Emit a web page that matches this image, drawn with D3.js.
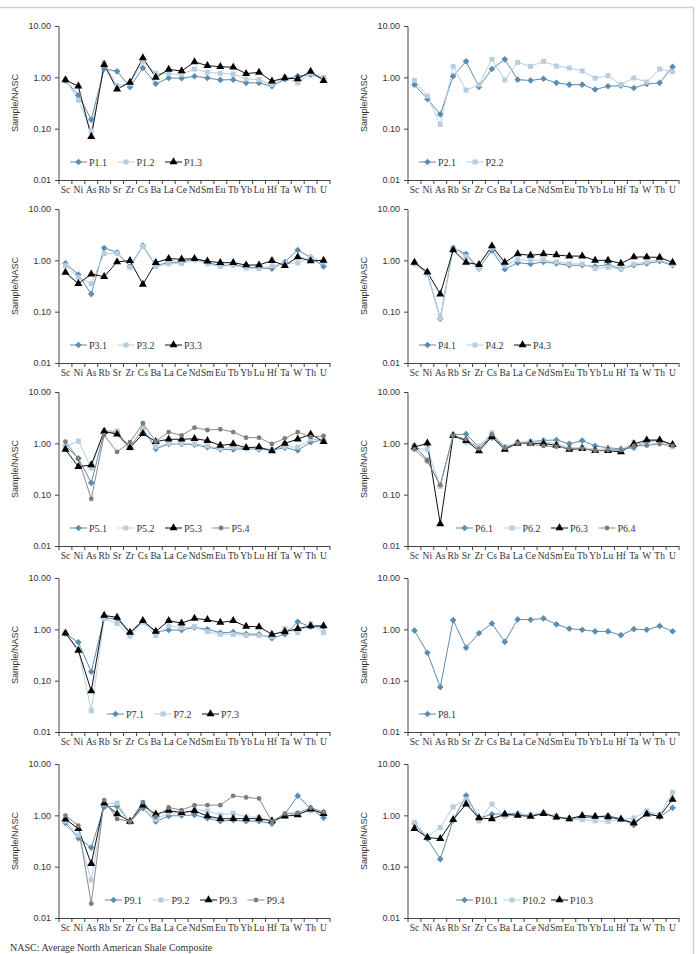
<!DOCTYPE html>
<html>
<head>
<meta charset="utf-8">
<script src="https://cdnjs.cloudflare.com/ajax/libs/d3/7.8.5/d3.min.js"></script>
<style>
  html, body { margin: 0; padding: 0; background: #fff; }
  .cont { width: 698px; height: 954px; overflow: hidden; position: relative; }
  .axis path, .axis line { stroke: #444; }
  .ytick text { font-family: "Liberation Sans", Arial, sans-serif; font-size: 9px; fill: #333; }
  .xtick text { font-family: "Liberation Serif", serif; font-size: 9.5px; fill: #333; }
  .ytitle { font-family: "Liberation Sans", Arial, sans-serif; font-size: 9px; fill: #333; }
  .leg text { font-family: "Liberation Serif", serif; font-size: 10px; fill: #333; }
  .note { font-family: "Liberation Serif", serif; font-size: 10px; fill: #333; }
</style>
</head>
<body>
<div class="cont"></div>
<script>

var elements = ["Sc", "Ni", "As", "Rb", "Sr", "Zr", "Cs", "Ba", "La", "Ce", "Nd", "Sm", "Eu", "Tb", "Yb", "Lu", "Hf", "Ta", "W", "Th", "U"];
var yTicks = [0.01, 0.1, 1, 10];

// sample / NASC ratios, one array per sample, in the order of elements
var p1_1 = [0.86, 0.45, 0.15, 1.47, 1.31, 0.65, 1.52, 0.75, 0.97, 0.96, 1.05, 0.97, 0.89, 0.90, 0.78, 0.78, 0.67, 0.92, 1.06, 1.12, 0.96];
var p1_2 = [0.90, 0.36, 0.09, 1.90, 0.69, 0.75, 2.00, 1.20, 1.18, 1.14, 1.45, 1.25, 1.20, 1.16, 0.93, 0.90, 0.72, 1.00, 0.78, 1.20, 1.00];
var p1_3 = [0.89, 0.67, 0.07, 1.76, 0.59, 0.80, 2.38, 1.00, 1.43, 1.33, 1.99, 1.69, 1.61, 1.57, 1.18, 1.25, 0.84, 0.97, 0.93, 1.31, 0.86];

var p2_1 = [0.72, 0.38, 0.19, 1.05, 2.05, 0.65, 1.45, 2.24, 0.90, 0.87, 0.94, 0.78, 0.72, 0.72, 0.58, 0.67, 0.69, 0.62, 0.74, 0.78, 1.61];
var p2_2 = [0.87, 0.43, 0.12, 1.64, 0.56, 0.72, 2.24, 0.89, 1.96, 1.64, 2.05, 1.66, 1.52, 1.33, 0.96, 1.08, 0.72, 0.97, 0.81, 1.45, 1.29];

var p3_1 = [0.87, 0.53, 0.22, 1.74, 1.43, 0.76, 1.93, 0.79, 0.91, 0.93, 1.08, 0.90, 0.79, 0.82, 0.74, 0.71, 0.69, 0.93, 1.59, 1.14, 0.76];
var p3_2 = [0.79, 0.47, 0.35, 1.35, 1.37, 0.73, 1.87, 0.76, 0.86, 0.86, 1.02, 0.85, 0.76, 0.80, 0.71, 0.69, 0.78, 0.87, 0.89, 1.14, 0.93];
var p3_3 = [0.58, 0.35, 0.54, 0.48, 0.93, 0.99, 0.34, 0.90, 1.08, 1.05, 1.08, 0.96, 0.90, 0.90, 0.81, 0.81, 0.99, 0.79, 1.16, 0.97, 1.00];

var p4_1 = [0.87, 0.57, 0.073, 1.74, 1.33, 0.69, 1.56, 0.67, 0.90, 0.85, 0.93, 0.87, 0.80, 0.80, 0.76, 0.82, 0.69, 0.80, 0.87, 0.96, 0.80];
var p4_2 = [0.87, 0.54, 0.075, 1.79, 1.18, 0.69, 1.74, 0.78, 1.03, 0.99, 1.02, 0.93, 0.86, 0.85, 0.69, 0.73, 0.67, 0.84, 0.93, 1.02, 0.82];
var p4_3 = [0.91, 0.59, 0.22, 1.59, 0.91, 0.82, 1.90, 0.91, 1.33, 1.25, 1.33, 1.27, 1.21, 1.21, 1.00, 1.00, 0.87, 1.16, 1.16, 1.14, 0.91];

var p5_1 = [0.90, 0.51, 0.17, 1.64, 1.66, 0.84, 1.96, 0.78, 0.97, 0.97, 0.94, 0.84, 0.76, 0.76, 0.80, 0.76, 0.74, 0.82, 0.73, 1.05, 1.16];
var p5_2 = [0.86, 1.11, 0.33, 1.77, 1.74, 0.82, 1.93, 0.86, 1.00, 1.00, 0.97, 0.89, 0.79, 0.84, 0.81, 0.79, 0.76, 0.86, 0.84, 1.20, 1.16];
var p5_3 = [0.76, 0.35, 0.38, 1.71, 1.50, 0.82, 1.54, 1.08, 1.20, 1.20, 1.23, 1.13, 0.91, 0.97, 0.82, 0.85, 0.71, 1.00, 1.21, 1.50, 1.08];
var p5_4 = [1.08, 0.50, 0.083, 1.45, 0.68, 1.05, 2.46, 1.09, 1.66, 1.43, 2.02, 1.82, 1.88, 1.66, 1.29, 1.29, 0.97, 1.25, 1.66, 1.33, 1.39];

var p6_1 = [0.91, 0.47, 0.15, 1.45, 1.52, 0.84, 1.29, 0.84, 1.01, 1.08, 1.14, 1.16, 0.98, 1.13, 0.89, 0.82, 0.78, 0.82, 1.11, 1.13, 0.93];
var p6_2 = [0.80, 0.76, 0.145, 1.41, 1.05, 0.89, 1.61, 0.86, 1.03, 1.08, 1.06, 1.00, 0.81, 0.84, 0.76, 0.78, 0.74, 1.03, 0.94, 1.03, 0.86];
var p6_3 = [0.84, 1.01, 0.027, 1.41, 1.13, 0.71, 1.35, 0.76, 1.00, 1.00, 1.00, 0.91, 0.76, 0.79, 0.72, 0.72, 0.68, 0.97, 1.16, 1.16, 0.94];
var p6_4 = [0.76, 0.45, 0.154, 1.41, 1.21, 0.79, 1.50, 0.82, 1.00, 0.97, 0.89, 0.86, 0.79, 0.79, 0.72, 0.74, 0.74, 0.89, 0.91, 0.97, 0.89];

var p7_1 = [0.82, 0.56, 0.149, 1.66, 1.61, 0.82, 1.45, 0.88, 0.97, 0.97, 1.09, 1.00, 0.86, 0.88, 0.81, 0.80, 0.67, 0.80, 1.40, 1.12, 1.12];
var p7_2 = [0.86, 0.41, 0.026, 1.61, 1.30, 0.74, 1.38, 0.76, 1.17, 1.07, 1.12, 0.90, 0.80, 0.80, 0.76, 0.76, 0.72, 1.03, 0.86, 1.30, 0.86];
var p7_3 = [0.84, 0.39, 0.063, 1.86, 1.71, 0.87, 1.47, 0.91, 1.47, 1.32, 1.63, 1.54, 1.36, 1.47, 1.14, 1.12, 0.80, 0.90, 1.03, 1.16, 1.17];

var p8_1 = [0.95, 0.35, 0.075, 1.51, 0.44, 0.84, 1.30, 0.57, 1.56, 1.54, 1.63, 1.25, 1.03, 0.98, 0.91, 0.91, 0.77, 1.01, 0.98, 1.16, 0.92];

var p9_1 = [0.71, 0.36, 0.235, 1.46, 1.51, 0.74, 1.38, 0.76, 0.97, 0.99, 1.02, 0.88, 0.77, 0.80, 0.77, 0.77, 0.69, 1.05, 2.40, 1.36, 0.90];
var p9_2 = [0.77, 0.41, 0.055, 1.65, 1.73, 0.73, 1.70, 0.83, 1.12, 1.10, 1.28, 1.22, 1.02, 1.10, 0.93, 0.92, 0.77, 0.96, 1.08, 1.22, 1.12];
var p9_3 = [0.84, 0.55, 0.114, 1.73, 1.07, 0.76, 1.57, 1.05, 1.24, 1.13, 1.22, 0.97, 0.86, 0.86, 0.86, 0.86, 0.78, 0.96, 1.02, 1.32, 1.08];
var p9_4 = [0.99, 0.63, 0.019, 1.98, 0.85, 0.76, 1.81, 0.93, 1.42, 1.26, 1.58, 1.58, 1.58, 2.40, 2.23, 2.13, 0.76, 1.08, 1.12, 1.40, 1.17];

var p10_1 = [0.69, 0.35, 0.14, 0.80, 2.44, 0.88, 1.05, 1.07, 1.08, 0.99, 1.12, 0.93, 0.88, 0.90, 0.93, 0.99, 0.85, 0.65, 1.15, 0.93, 1.40];
var p10_2 = [0.73, 0.38, 0.58, 1.46, 2.04, 0.78, 1.65, 0.96, 1.05, 1.03, 1.12, 0.96, 0.84, 0.83, 0.78, 0.76, 0.83, 0.89, 1.22, 1.02, 2.80];
var p10_3 = [0.55, 0.37, 0.35, 0.82, 1.65, 0.89, 0.85, 1.05, 1.00, 0.95, 1.08, 0.92, 0.85, 0.99, 0.95, 0.93, 0.84, 0.71, 1.05, 0.96, 2.04];

var panelNames = [
  ["P1.1", "P1.2", "P1.3"],
  ["P2.1", "P2.2"],
  ["P3.1", "P3.2", "P3.3"],
  ["P4.1", "P4.2", "P4.3"],
  ["P5.1", "P5.2", "P5.3", "P5.4"],
  ["P6.1", "P6.2", "P6.3", "P6.4"],
  ["P7.1", "P7.2", "P7.3"],
  ["P8.1"],
  ["P9.1", "P9.2", "P9.3", "P9.4"],
  ["P10.1", "P10.2", "P10.3"]
];
var panelValues = [
  [p1_1, p1_2, p1_3],
  [p2_1, p2_2],
  [p3_1, p3_2, p3_3],
  [p4_1, p4_2, p4_3],
  [p5_1, p5_2, p5_3, p5_4],
  [p6_1, p6_2, p6_3, p6_4],
  [p7_1, p7_2, p7_3],
  [p8_1],
  [p9_1, p9_2, p9_3, p9_4],
  [p10_1, p10_2, p10_3]
];

// look of the n-th series in each panel
var lineColor = ["#5b8db0", "#b7cde0", "#111111", "#8a8a8a"];
var markFill = ["#5b8db0", "#b7cde0", "#000000", "#7d7d7d"];
var markShape = [
  d3.symbol().type(d3.symbolSquare).size(22),
  d3.symbol().type(d3.symbolSquare).size(25),
  d3.symbol().type(d3.symbolTriangle).size(28),
  d3.symbol().type(d3.symbolCircle).size(18)
];
var markRotate = [45, 0, 0, 0];

var W = 698, H = 954;
var pw = 271, ph = 154;
var colLeft = [59, 408];
var rowTop = [26, 209, 392, 578, 764];
var legendShift = [11, 11, 11, 11, 11, 48, 48, 11, 46, 48];

var svg = d3.select(".cont").append("svg").
attr("width", W).
attr("height", H);

// frame of the figure
svg.append("path").
attr("d", "M0,7.5H693.5V" + H).
attr("fill", "none").
attr("stroke", "#cfcfcf").
attr("stroke-width", 1.5);

var x = d3.scaleBand().
domain(elements).
range([0, pw]);

var y = d3.scaleLog().
domain([0.01, 10]).
range([ph, 0]);

function marker(g, k, cx, cy) {
  g.append("path").
  attr("d", markShape[k]()).
  attr("fill", markFill[k]).
  attr("transform", "translate(" + cx + "," + cy + ") rotate(" + markRotate[k] + ")");
}

panelValues.forEach(function (series, i) {
  var g = svg.append("g").
  attr("transform", "translate(" + colLeft[i % 2] + "," + rowTop[Math.floor(i / 2)] + ")");

  var yAxis = d3.axisLeft(y).
  tickValues(yTicks).
  tickSize(4).
  tickPadding(4).
  tickFormat(d3.format(".2f"));

  g.append("g").
  attr("class", "axis ytick").
  call(yAxis).
  select(".domain").
  attr("d", "M0,0.5V" + ph);

  var xAxis = d3.axisBottom(x).
  tickSize(0).
  tickPadding(6);

  var gx = g.append("g").
  attr("class", "axis xtick").
  attr("transform", "translate(0," + ph + ")").
  call(xAxis);
  gx.select(".domain").attr("d", "M0,0.5H" + pw);

  // tick marks sit between the categories
  gx.selectAll("line.sep").
  data(d3.range(elements.length + 1)).
  enter().append("line").
  attr("class", "sep").
  attr("x1", function (d) {return d * x.step();}).
  attr("x2", function (d) {return d * x.step();}).
  attr("y1", 0).
  attr("y2", 4).
  attr("stroke", "#444");

  g.append("text").
  attr("class", "ytitle").
  attr("transform", "translate(-41," + ph / 2 + ") rotate(-90)").
  attr("text-anchor", "middle").
  text("Sample/NASC");

  var line = d3.line().
  x(function (d, j) {return x(elements[j]) + x.bandwidth() / 2;}).
  y(function (d) {return y(d);});

  series.forEach(function (vals, k) {
    g.append("path").
    datum(vals).
    attr("d", line).
    attr("fill", "none").
    attr("stroke", lineColor[k]).
    attr("stroke-width", 1);
  });

  series.forEach(function (vals, k) {
    vals.forEach(function (v, j) {
      marker(g, k, x(elements[j]) + x.bandwidth() / 2, y(v));
    });
  });

  // legend
  var leg = g.append("g").
  attr("class", "leg").
  attr("transform", "translate(" + legendShift[i] + "," + 136 + ")");

  panelNames[i].forEach(function (name, k) {
    var lx = k * 47.5;
    leg.append("line").
    attr("x1", lx).
    attr("x2", lx + 17).
    attr("y1", 0).
    attr("y2", 0).
    attr("stroke", lineColor[k]).
    attr("stroke-width", 1);
    marker(leg, k, lx + 8.5, 0);
    leg.append("text").
    attr("x", lx + 19).
    attr("y", 3.5).
    text(name);
  });
});

svg.append("text").
attr("class", "note").
attr("x", 10).
attr("y", 951).
text("NASC: Average North American Shale Composite");

</script>
</body>
</html>
